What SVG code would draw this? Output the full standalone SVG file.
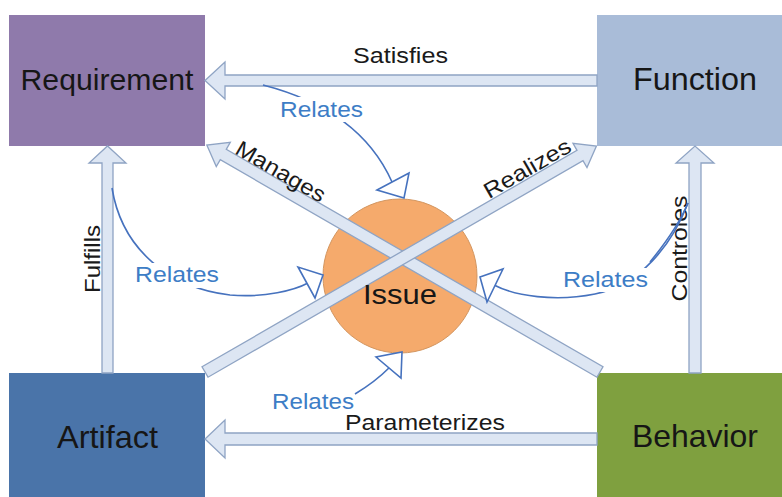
<svg xmlns="http://www.w3.org/2000/svg" width="782" height="497" viewBox="0 0 782 497">
  <style>
    .node-text { font-family: "Liberation Sans", Arial, sans-serif; fill: #161616; text-anchor: middle; }
    .lbl { font-family: "Liberation Sans", Arial, sans-serif; font-size: 22px; fill: #1a1a1a; text-anchor: middle; }
    .rel { font-family: "Liberation Sans", Arial, sans-serif; font-size: 22px; fill: #3d7dc6; text-anchor: middle; }
    .block { fill: #dde6f3; stroke: #8fa4c4; stroke-width: 1.3; stroke-linejoin: miter; }
    .curve { fill: none; stroke: #4672be; stroke-width: 1.6; }
    .rhead { fill: #ffffff; stroke: #4672be; stroke-width: 1.6; stroke-linejoin: miter; }
    .bg { fill: #ffffff; }
  </style>

  <rect width="782" height="497" fill="#ffffff"/>

  <g id="node-requirement">
    <rect x="9" y="15" width="196" height="131" fill="#8f7aab"/>
    <text class="node-text" x="107" y="90" font-size="30" textLength="173" lengthAdjust="spacingAndGlyphs">Requirement</text>
  </g>
  <g id="node-function">
    <rect x="597" y="15" width="185" height="131" fill="#a9bcd8"/>
    <text class="node-text" x="695" y="90" font-size="32" textLength="124" lengthAdjust="spacingAndGlyphs">Function</text>
  </g>
  <g id="node-artifact">
    <rect x="9" y="373" width="196" height="124" fill="#4a74a9"/>
    <text class="node-text" x="107.5" y="448" font-size="32" textLength="101" lengthAdjust="spacingAndGlyphs">Artifact</text>
  </g>
  <g id="node-behavior">
    <rect x="597" y="373" width="185" height="124" fill="#7fa03f"/>
    <text class="node-text" x="695" y="447" font-size="32" textLength="126" lengthAdjust="spacingAndGlyphs">Behavior</text>
  </g>
  <g id="node-issue">
    <circle cx="400" cy="276" r="77" fill="#f5aa6c" stroke="#d39660" stroke-width="1"/>
  </g>

  <g id="connectors">
    <!-- block arrows -->
    <path class="block" d="M597,75 H225 V62 L205,80.5 L225,99 V86 H597 Z"/>
    <path class="block" d="M597,433 H225 V420 L205,439 L225,458 V445 H597 Z"/>
    <path class="block" d="M102,373 V163 H89 L107.5,146 L126,163 H113 V373 Z"/>
    <path class="block" d="M689,373 V163 H676 L695,146 L714,163 H701 V373 Z"/>
    <path class="block" transform="translate(600,372) rotate(210)" d="M0,-6 H435 V-14 L454,0 L435,14 V6 H0 Z"/>
    <path class="block" transform="translate(205,372) rotate(-30)" d="M0,-6 H433 V-14 L452,0 L433,14 V6 H0 Z"/>

    <!-- block arrow labels -->
    <text class="lbl" x="400.5" y="63" textLength="95" lengthAdjust="spacingAndGlyphs">Satisfies</text>
    <text class="lbl" x="425" y="430" textLength="160" lengthAdjust="spacingAndGlyphs">Parameterizes</text>
    <text class="lbl" transform="translate(100,259) rotate(-90)" textLength="68" lengthAdjust="spacingAndGlyphs">Fulfills</text>
    <text class="lbl" transform="translate(687,248.5) rotate(-90)" textLength="106" lengthAdjust="spacingAndGlyphs">Controles</text>
    <text class="lbl" transform="translate(277,178) rotate(30)" textLength="100" lengthAdjust="spacingAndGlyphs">Manages</text>
    <text class="lbl" transform="translate(531,175) rotate(-30)" textLength="97" lengthAdjust="spacingAndGlyphs">Realizes</text>

    <!-- Relates curves -->
    <path class="curve" d="M263,85 Q360,110 392,182"/>
    <path class="curve" d="M112,188 C122,250 170,288 230,295 C265,298 295,290 308,283"/>
    <path class="curve" d="M688,203 C672,245 640,285 595,294 C555,302 515,296 494,285"/>
    <path class="curve" d="M355,394 Q375,382 390,367"/>

    <polygon class="rhead" points="377,190 409,173 404,198"/>
    <polygon class="rhead" points="298,267 315,298 323,275"/>
    <polygon class="rhead" points="503,269 487,302 480,277"/>
    <polygon class="rhead" points="376,357 401,378 402,352"/>

    <rect class="bg" x="277" y="97" width="89" height="25"/>
    <rect class="bg" x="132" y="263" width="90" height="25"/>
    <rect class="bg" x="560" y="268" width="91" height="24"/>
    <path class="curve" d="M650,262 C668,240 680,222 688,203"/>

    <text class="rel" x="321.5" y="117" textLength="83" lengthAdjust="spacingAndGlyphs">Relates</text>
    <text class="rel" x="177" y="282" textLength="84" lengthAdjust="spacingAndGlyphs">Relates</text>
    <text class="rel" x="605.5" y="287" textLength="85" lengthAdjust="spacingAndGlyphs">Relates</text>
    <text class="rel" x="313" y="409" textLength="82" lengthAdjust="spacingAndGlyphs">Relates</text>
  </g>

  <g id="node-issue-label">
    <text class="node-text" x="400" y="304" font-size="27" textLength="74" lengthAdjust="spacingAndGlyphs">Issue</text>
  </g>
</svg>
